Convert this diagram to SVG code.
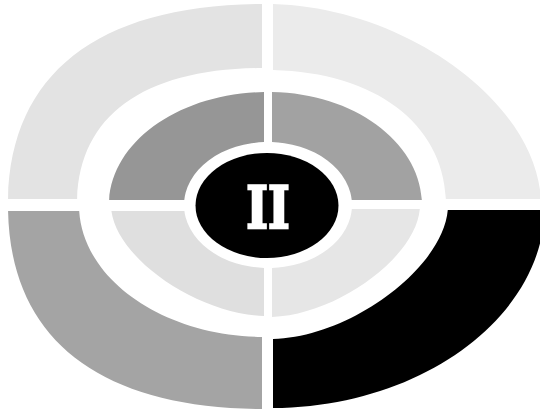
<svg xmlns="http://www.w3.org/2000/svg" width="540" height="410" viewBox="0 0 540 410">
  <style>
    .tl-out { fill: #e3e3e3; }
    .tr-out { fill: #ebebeb; }
    .bl-out { fill: #a4a4a4; }
    .br-out { fill: #000000; }
    .tl-in { fill: #969696; }
    .tr-in { fill: #a2a2a2; }
    .bl-in { fill: #dfdfdf; }
    .br-in { fill: #e6e6e6; }
    .hub { fill: #000000; }
    .hub-text { fill: #ffffff; stroke: #ffffff; stroke-width: 2.5px; stroke-linejoin: miter; font-family: "DejaVu Serif", "Liberation Serif", serif; font-weight: bold; font-size: 58px; }
  </style>
  <defs>
    <clipPath id="c-tl-out"><rect x="0" y="0" width="262" height="199"/></clipPath>
    <clipPath id="c-tr-out"><rect x="273" y="0" width="267" height="199"/></clipPath>
    <clipPath id="c-bl-out"><rect x="0" y="211" width="262" height="199"/></clipPath>
    <clipPath id="c-br-out"><rect x="273" y="210" width="267" height="200"/></clipPath>
    <clipPath id="c-tl-in"><rect x="0" y="0" width="264" height="200"/></clipPath>
    <clipPath id="c-tr-in"><rect x="272" y="0" width="268" height="200"/></clipPath>
    <clipPath id="c-bl-in"><rect x="0" y="211" width="264" height="199"/></clipPath>
    <clipPath id="c-br-in"><rect x="272" y="209" width="268" height="201"/></clipPath>
  </defs>
  <rect width="540" height="410" fill="#ffffff"/>

  <g id="outer-top-left">
    <path class="tl-out" clip-path="url(#c-tl-out)" d="M8,205 C8,74 98,4 265,4 L265,68 C143,68 77,116 77,205 Z"/>
  </g>
  <g id="outer-top-right">
    <path class="tr-out" clip-path="url(#c-tr-out)" d="M265,4 C403,4 541,104 541,205 L446,205 C446,124 374,70 265,70 Z"/>
  </g>
  <g id="outer-bottom-left">
    <path class="bl-out" clip-path="url(#c-bl-out)" d="M8,205 C8,338 98,409 265,409 L265,337 C163,337 79,278 79,205 Z"/>
  </g>
  <g id="outer-bottom-right">
    <path class="br-out" clip-path="url(#c-br-out)" d="M270,408 C421,408 545,317 545,205 L448,205 C448,265 350,339 270,339 Z"/>
  </g>

  <g id="inner-top-left">
    <path class="tl-in" clip-path="url(#c-tl-in)" d="M109,205 C109,143 179,92 268,92 L268,142 A84,63 0 0 0 184,205 Z"/>
  </g>
  <g id="inner-top-right">
    <path class="tr-in" clip-path="url(#c-tr-in)" d="M268,92 C354,92 422,143 422,205 L352,205 A84,63 0 0 0 268,142 Z"/>
  </g>
  <g id="inner-bottom-left">
    <path class="bl-in" clip-path="url(#c-bl-in)" d="M111,205 C111,255 197,316 268,316 L268,268 A84,63 0 0 1 184,205 Z"/>
  </g>
  <g id="inner-bottom-right">
    <path class="br-in" clip-path="url(#c-br-in)" d="M420,205 C420,255 336,317 268,317 L268,268 A84,63 0 0 0 352,205 Z"/>
  </g>

  <g id="hub">
    <ellipse class="hub" cx="267" cy="205.5" rx="71.5" ry="52.5"/>
    <text class="hub-text" x="0" y="0" text-anchor="middle" transform="translate(268,228) scale(0.8,1)">II</text>
  </g>
</svg>
